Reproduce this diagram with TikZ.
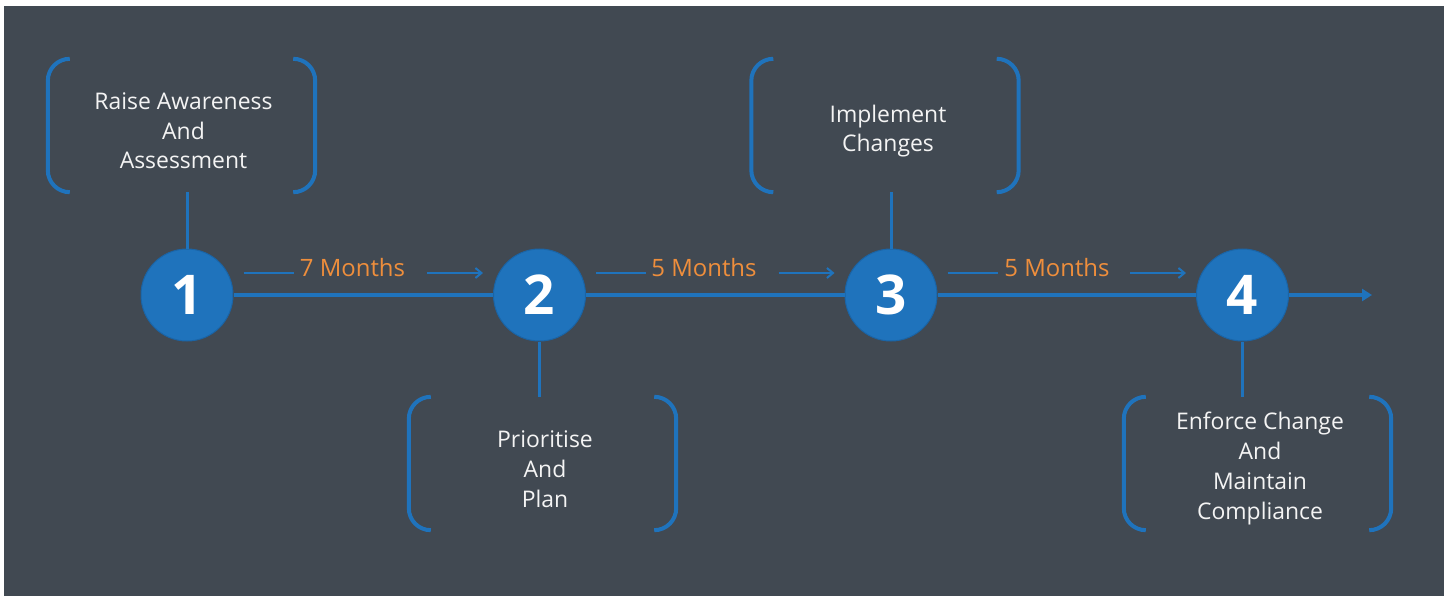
\documentclass[tikz,border=0pt]{standalone}
\usepackage{fontspec}
\setmainfont{Open Sans}
\usetikzlibrary{arrows.meta}
\definecolor{bgdark}{HTML}{414952}
\definecolor{stepblue}{HTML}{1F73BC}
\definecolor{rimblue}{HTML}{1A64A6}
\definecolor{durorange}{HTML}{EE8E3C}
\definecolor{captext}{HTML}{F4F4F4}
\begin{document}
\begin{tikzpicture}[x=1bp,y=-1bp,
  stepdot/.style={circle, fill=stepblue, draw=rimblue, line width=1bp,
    minimum size=92bp, inner sep=0pt, text=white,
    font=\fontsize{55}{55}\selectfont\bfseries},
  bracketbox/.style={rectangle, minimum width=267bp, minimum height=133bp, inner sep=0pt},
  caption/.style={align=center, text=captext, inner sep=0pt,
    font=\fontsize{23}{30}\selectfont},
  duration/.style={text=durorange, inner sep=0pt, font=\fontsize{24}{24}\selectfont},
  mainline/.style={draw=stepblue, line width=3.5bp},
  stem/.style={draw=stepblue, line width=3bp},
  span/.style={draw=stepblue, line width=2bp},
  bracket/.style={draw=stepblue, line width=4bp, rounded corners=22bp},
]
% canvas
\useasboundingbox (0,0) rectangle (1449,596);
\fill[white] (0,0) rectangle (1449,596);
\fill[bgdark] (4,6) rectangle (1444,596);

% milestones
\node[stepdot] (c1) at (187,295) {1};
\node[stepdot] (c2) at (539.5,295) {2};
\node[stepdot] (c3) at (891,295) {3};
\node[stepdot] (c4) at (1242.5,295) {4};
\coordinate (tail) at (1372,295);

% timeline
\draw[mainline] (c1.east) -- (c2.west);
\draw[mainline] (c2.east) -- (c3.west);
\draw[mainline] (c3.east) -- (c4.west);
\draw[mainline, -{Triangle[length=10bp,width=12bp]}] (c4.east) -- (tail);

% bracket frames
\node[bracketbox] (b1) at (181.5,125.5) {};
\node[bracketbox] (b2) at (542.5,463.5) {};
\node[bracketbox] (b3) at (885,125.5) {};
\node[bracketbox] (b4) at (1257.5,463.5) {};
\foreach \b in {b1,b2,b3,b4}{
  \draw[bracket] ([xshift=22bp]\b.north west) -- (\b.north west) -- (\b.south west) -- ([xshift=22bp]\b.south west);
  \draw[bracket] ([xshift=-22bp]\b.north east) -- (\b.north east) -- (\b.south east) -- ([xshift=-22bp]\b.south east);
}

% stems
\draw[stem] (c1.north) -- (c1.north |- b1.south);
\draw[stem] (c2.south) -- (c2.south |- b2.north);
\draw[stem] (c3.north) -- (c3.north |- b3.south);
\draw[stem] (c4.south) -- (c4.south |- b4.north);

% captions (anchored on the baseline of their last line)
\node[caption, anchor=base] (t1) at (183.5,169) {Raise Awareness\\And\\Assessment};
\node[caption, anchor=base] (t2) at (545,507) {Prioritise\\And\\Plan};
\node[caption, anchor=base] (t3) at (888,152) {Implement\\Changes};
\node[caption, anchor=base] (t4) at (1260,519) {Enforce Change\\And\\Maintain\\Compliance};

% durations
\node[duration, anchor=base] (d1) at (352.5,276) {7 Months};
\node[duration, anchor=base] (d2) at (704,276) {5 Months};
\node[duration, anchor=base] (d3) at (1057,276) {5 Months};

\foreach \a/\z in {c1/c2,c2/c3,c3/c4}{
  \draw[span] ([shift={(10,-22)}]\a.east) -- ++(50,0);
  \draw[span, -{Straight Barb[length=6bp,width=10bp]}] ([shift={(-66,-22)}]\z.west) -- ([shift={(-10,-22)}]\z.west);
}
\end{tikzpicture}
\end{document}
